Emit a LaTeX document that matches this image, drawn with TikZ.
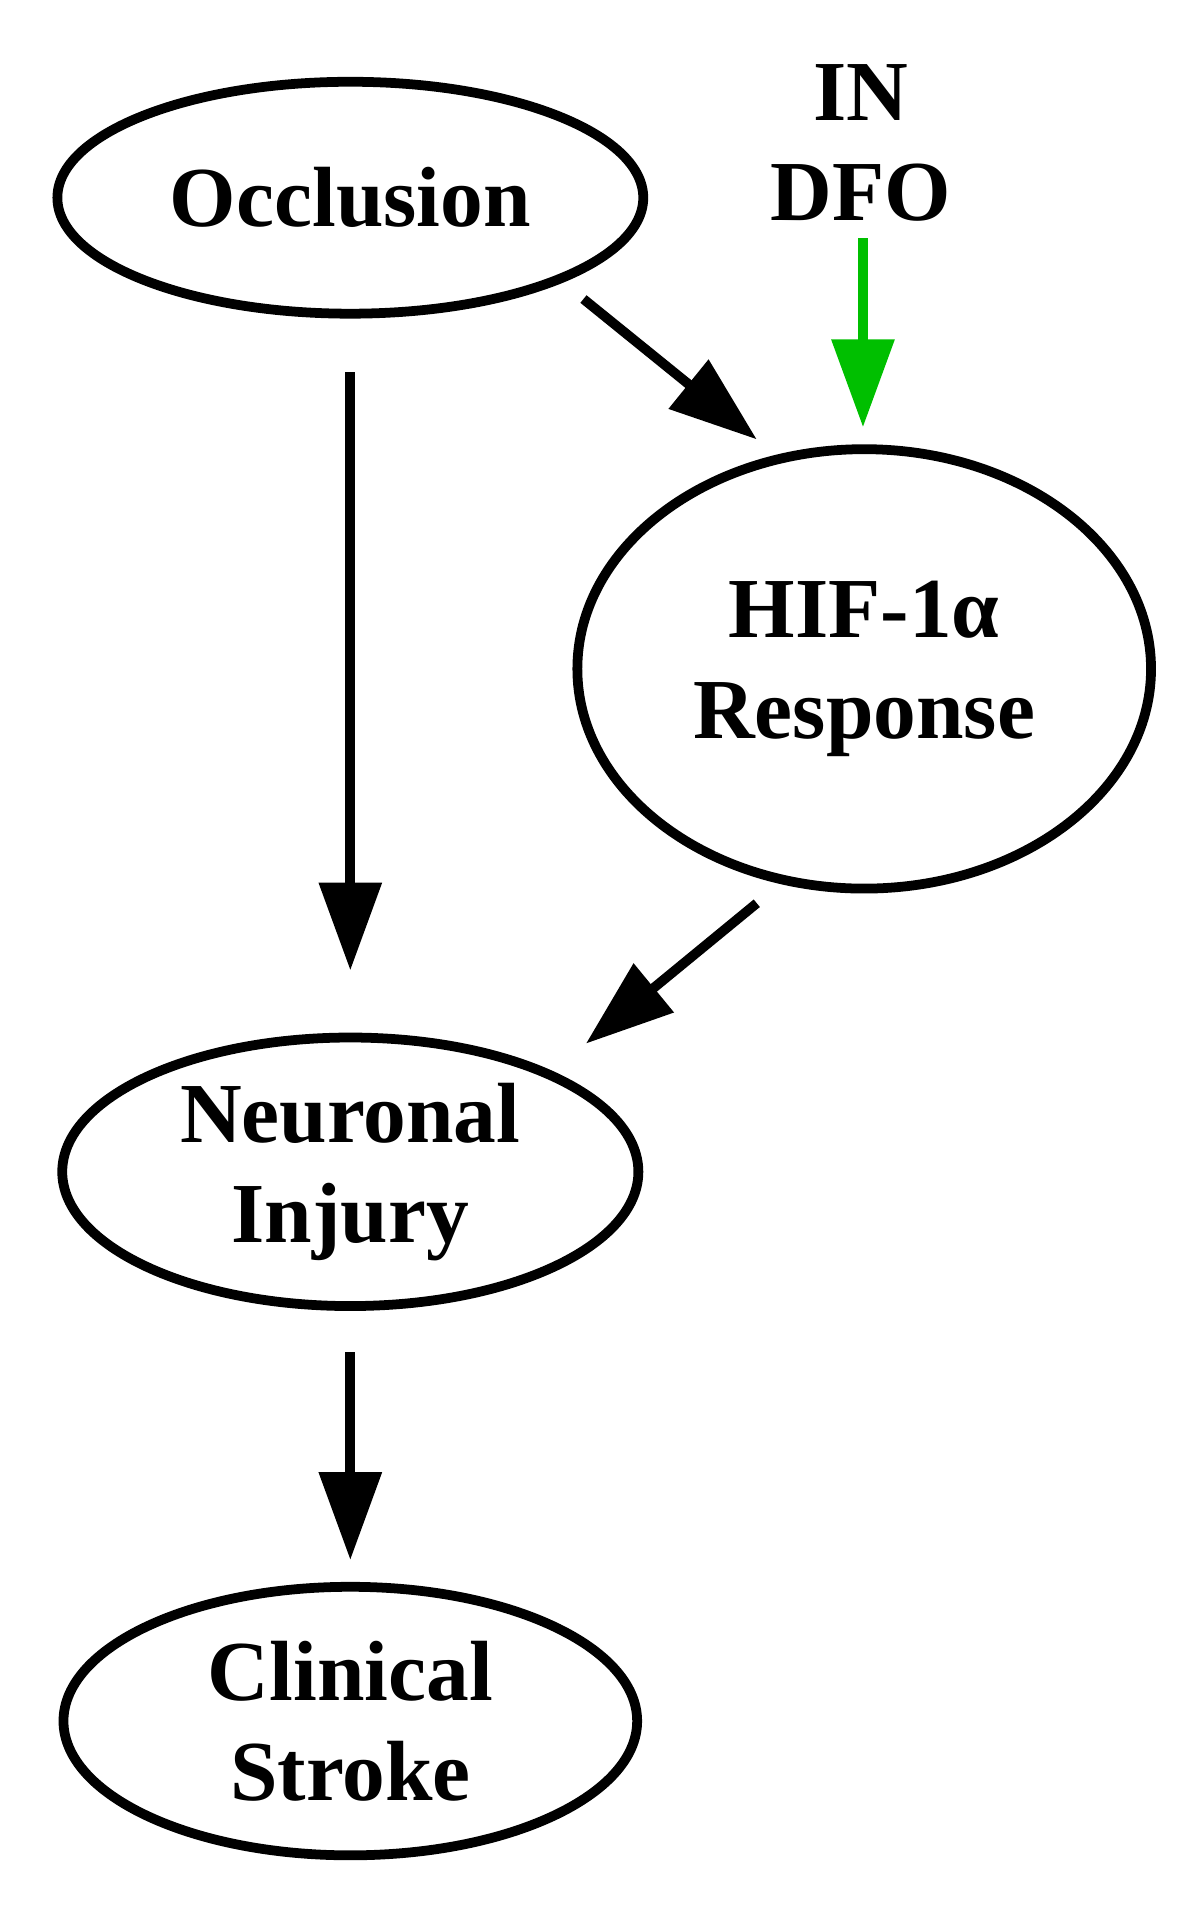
\documentclass[tikz,border=0pt]{standalone}
\usepackage{fontspec}
\setmainfont{Liberation Serif}
\usetikzlibrary{arrows.meta,shapes.geometric}
\begin{document}
\begin{tikzpicture}[x=0.5pt,y=-0.5pt,
  el/.style={draw,line width=4pt,ellipse,inner sep=0pt,font=\fontsize{35}{41}\selectfont\bfseries,align=center},
  ar/.style={line width=4pt,-{Triangle[length=36pt,width=25pt]}}]
\useasboundingbox (0,0) rectangle (975,1582);
\node[el,minimum width=240pt,minimum height=95pt] (occ) at (287,162) {Occlusion};
\node[el,minimum width=235pt,minimum height=180pt] (hif) at (708,548) {HIF-1α\\Response};
\node[el,minimum width=236pt,minimum height=110pt] (neu) at (287,960) {Neuronal\\Injury};
\node[el,minimum width=235pt,minimum height=110pt] (cli) at (287,1410) {Clinical\\Stroke};
\node[font=\fontsize{35}{41}\selectfont\bfseries,align=center] (dfo) at (705,117) {IN\\DFO};
\coordinate (g1) at (707,195); \coordinate (g2) at (707,350);
\coordinate (a1) at (287,305); \coordinate (a2) at (287,795);
\coordinate (b1) at (478,245); \coordinate (b2) at (620,360);
\coordinate (c1) at (620,740); \coordinate (c2) at (480,855);
\coordinate (d1) at (287,1108); \coordinate (d2) at (287,1278);
\draw[ar,green!75!black] (g1) -- (g2);
\draw[ar] (a1) -- (a2);
\draw[ar] (b1) -- (b2);
\draw[ar] (c1) -- (c2);
\draw[ar] (d1) -- (d2);
\end{tikzpicture}
\end{document}
